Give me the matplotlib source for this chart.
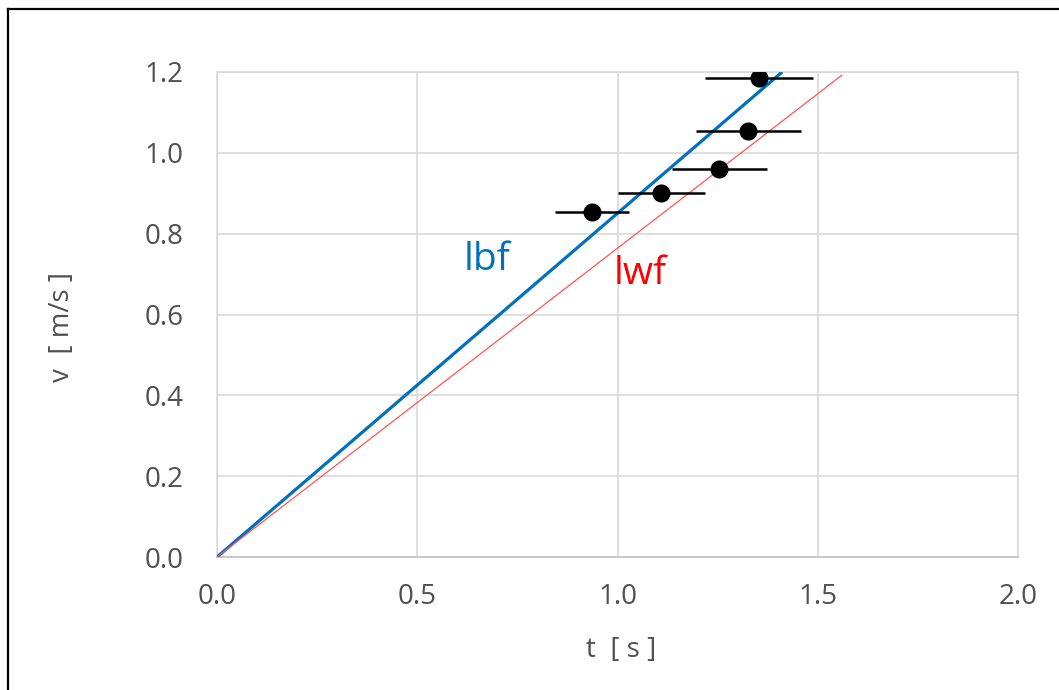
import numpy as np
import matplotlib.pyplot as plt
from matplotlib.lines import Line2D

# --- DATA ---
t_meas = [0.937, 1.109, 1.254, 1.327, 1.353]     # t [s]
v_meas = [0.854, 0.901, 0.960, 1.055, 1.184]     # v [m/s]
t_err = [0.092, 0.109, 0.119, 0.131, 0.134]      # horizontal error

# line of best fit / line of worst fit
lbf_t = [0.0, 1.411]
lbf_v = [0.0, 1.200]
lwf_t = [0.0, 1.560]
lwf_v = [0.0, 1.192]

x_ticks = [0.0, 0.5, 1.0, 1.5, 2.0]
y_ticks = [0.0, 0.2, 0.4, 0.6, 0.8, 1.0, 1.2]

GREY = '#505050'
GRID = '#d9d9d9'
BLUE = '#0070c0'
RED = '#ff0000'

plt.rcParams['font.family'] = ['Open Sans', 'DejaVu Sans']

fig = plt.figure(figsize=(10.59, 6.90), dpi=100)
ax = fig.add_axes([217 / 1059, 1 - 557 / 690, (1018 - 217) / 1059, (557 - 72) / 690])

# data
ax.plot(lbf_t, lbf_v, color=BLUE, lw=2.3, solid_capstyle='butt', zorder=3)
ax.plot(lwf_t, lwf_v, color='#ff5555', lw=0.9, zorder=3)
ax.errorbar(t_meas, v_meas, xerr=t_err, fmt='o', color='black', ms=12,
            elinewidth=1.8, capsize=0, zorder=4)

ax.text(0.674, 0.735, 'lbf', color=BLUE, fontsize=28, ha='center', va='center')
ax.text(1.056, 0.700, 'lwf', color=RED, fontsize=28, ha='center', va='center')

# axes styling
ax.set_xlim(0, 2.0)
ax.set_ylim(0, 1.2)
ax.set_xticks(x_ticks)
ax.set_yticks(y_ticks)
ax.set_xticklabels([f'{x:.1f}' for x in x_ticks])
ax.set_yticklabels([f'{y:.1f}' for y in y_ticks])
ax.tick_params(length=0, labelsize=20, colors=GREY)
ax.tick_params(axis='x', pad=19)
ax.tick_params(axis='y', pad=24)
ax.grid(True, color=GRID, lw=1.2)
ax.set_axisbelow(True)
for side in ['top', 'right', 'left']:
    ax.spines[side].set_color(GRID)
    ax.spines[side].set_linewidth(1.2)
ax.spines['bottom'].set_color('#c8c8c8')
ax.spines['bottom'].set_linewidth(1.4)

fig.text(62 / 1059, 1 - 327 / 690, 'v  [ m/s ]', rotation=90, color=GREY,
         fontsize=20, ha='center', va='center')
fig.text(621 / 1059, 1 - 650 / 690, 't  [ s ]', color=GREY,
         fontsize=20, ha='center', va='center')

# chart frame (only top and left edges are visible in the crop)
fig.add_artist(Line2D([8 / 1059, 1.0], [1 - 9 / 690, 1 - 9 / 690], color='black', lw=1.6))
fig.add_artist(Line2D([8 / 1059, 8 / 1059], [0.0, 1 - 9 / 690], color='black', lw=1.6))

plt.savefig('out.png', dpi=100)
